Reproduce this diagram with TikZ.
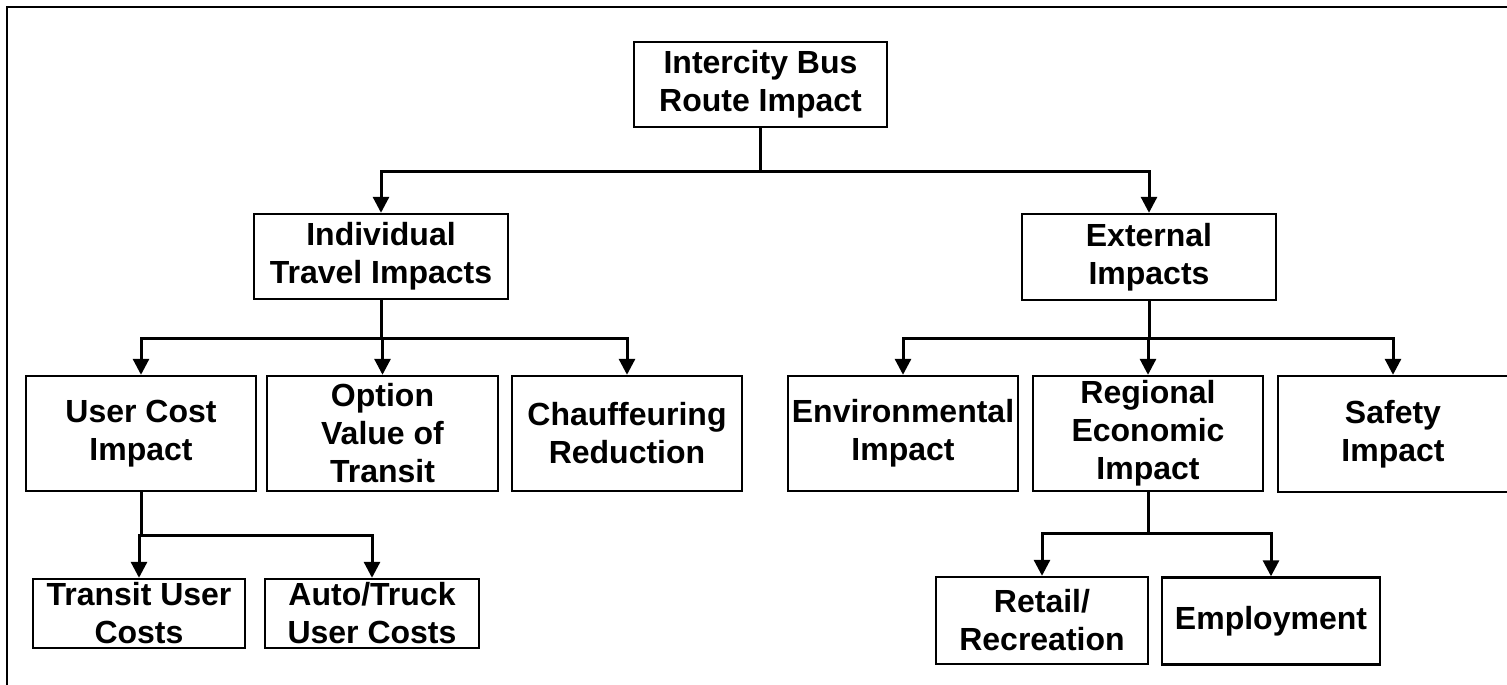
\documentclass[tikz,border=0pt]{standalone}
\usepackage{fontspec}
\setmainfont{Liberation Sans}
\usepackage{tikz}
\usetikzlibrary{arrows.meta, positioning, calc}
\tikzset{
  block/.style={rectangle, draw=black, fill=white, align=center,
    inner sep=1pt, line width=2.4pt,
    font=\bfseries\fontsize{32}{38}\selectfont},
  arrow/.style={-{Triangle[length=16pt, width=16pt]}, line width=3pt, color=black},
  line/.style={line width=3pt, color=black}
}
\begin{document}
\begin{tikzpicture}[x=1pt, y=-1pt]
  \useasboundingbox (0,0) rectangle (1507,685);
  % Frame
  \draw[line width=2.8pt] (7,690) -- (7,7) -- (1512,7);

  % Root
  \node[block, minimum width=253pt, minimum height=85pt] (root) at (760.5,84.5) {Intercity Bus\\Route Impact};

  % Level 1
  \node[block, minimum width=254pt, minimum height=85pt] (indiv) at (381,256.5) {Individual\\Travel Impacts};
  \node[block, minimum width=254pt, minimum height=86pt] (ext) at (1149,257) {External\\Impacts};

  % Level 2
  \node[block, minimum width=230pt, minimum height=115pt] (usercost) at (141,433.5) {User Cost\\Impact};
  \node[block, minimum width=231pt, minimum height=115pt] (option) at (382.5,433.5) {Option\\Value of\\Transit};
  \node[block, minimum width=230pt, minimum height=115pt] (chauf) at (627,433.5) {Chauffeuring\\Reduction};
  \node[block, minimum width=230pt, minimum height=115pt] (env) at (903,433.5) {Environmental\\Impact};
  \node[block, minimum width=230pt, minimum height=115pt] (regional) at (1148,433.5) {Regional\\Economic\\Impact};
  \node[block, minimum width=230pt, minimum height=116pt] (safety) at (1393,434) {Safety\\Impact};

  % Level 3
  \node[block, minimum width=212pt, minimum height=69pt] (transit) at (139,613.5) {Transit User\\Costs};
  \node[block, minimum width=214pt, minimum height=69pt] (auto) at (372,613.5) {Auto/Truck\\User Costs};
  \node[block, minimum width=212pt, minimum height=87pt] (retail) at (1042,620.5) {Retail/\\Recreation};
  \node[block, minimum width=218pt, minimum height=87pt] (employ) at (1271,621) {Employment};

  % Junctions
  \coordinate (j1) at (760.5,171);
  \coordinate (j2) at (381,338);
  \coordinate (j3) at (1149,338);
  \coordinate (j4) at (141,535);
  \coordinate (j5) at (1148,533);

  % Connectors
  \draw[line] (root) -- (j1);
  \draw[arrow] (j1) -| (indiv);
  \draw[arrow] (j1) -| (ext);

  \draw[line] (indiv) -- (j2);
  \foreach \n in {usercost, option, chauf}
    \draw[arrow] (j2) -| (\n);

  \draw[line] (ext) -- (j3);
  \foreach \n in {env, regional, safety}
    \draw[arrow] (j3) -| (\n);

  \draw[line] (usercost) -- (j4);
  \foreach \n in {transit, auto}
    \draw[arrow] (j4) -| (\n);

  \draw[line] (regional) -- (j5);
  \foreach \n in {retail, employ}
    \draw[arrow] (j5) -| (\n);
\end{tikzpicture}
\end{document}
